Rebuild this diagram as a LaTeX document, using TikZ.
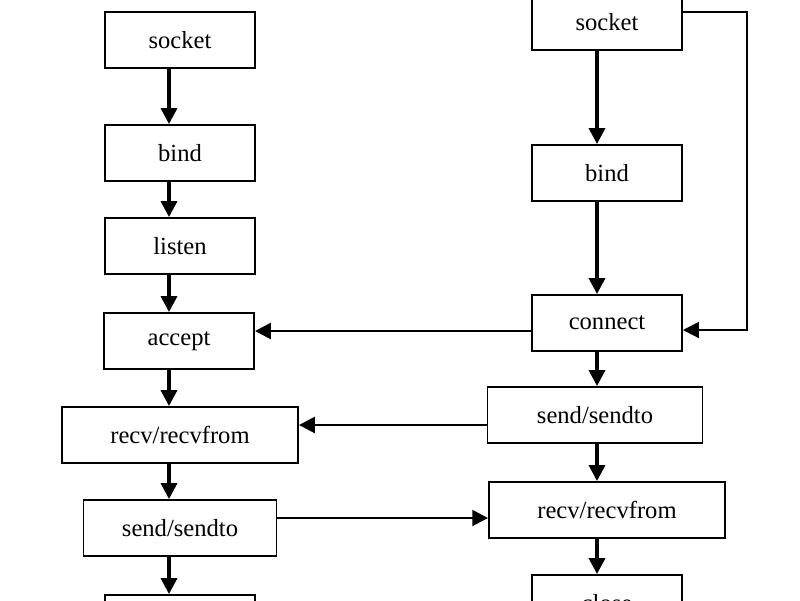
\documentclass[tikz,border=0pt]{standalone}
\usepackage{fontspec}
\setmainfont{Liberation Serif}
\usepackage{tikz}
\usetikzlibrary{arrows.meta}

\begin{document}
\begin{tikzpicture}[x=0.02cm,y=-0.02cm,
    every node/.style={draw,line width=1.1pt,minimum width=3cm,minimum height=1.12cm,inner sep=0,font=\fontsize{14}{16}\selectfont},
    arr/.style={-{Triangle[length=9pt,width=9pt]},line width=2pt}]
        \useasboundingbox (0,0) rectangle (800,600);
        \clip (0,0) rectangle (800,600);
        % server side
        \node (lsocket) at (180,40) {socket};
        \node (lbind) at (180,153) {bind};
        \node (llisten) at (180,246) {listen};
        \node (laccept) at (179,341) {accept};
        \node[minimum width=4.72cm] (lrecv) at (180,435) {recv/recvfrom};
        \node[minimum width=3.86cm] (lsend) at (180,528) {send/sendto};
        \node (lclose) at (180,623) {};
        % client side
        \node (rsocket) at (607,22) {socket};
        \node (rbind) at (607,173) {bind};
        \node (rconnect) at (607,323) {connect};
        \node[minimum width=4.3cm] (rsend) at (595,415) {send/sendto};
        \node[minimum width=4.72cm] (rrecv) at (607,510) {recv/recvfrom};
        \node (rclose) at (607,603) {close};
        \coordinate (lx) at (169,0);
        \coordinate (rx) at (597,0);
        \foreach \a/\b in {lsocket/lbind,lbind/llisten,llisten/laccept,laccept/lrecv,lrecv/lsend,lsend/lclose}
          \draw[arr] (\a.south -| lx) -- (\b.north -| lx);
        \foreach \a/\b in {rsocket/rbind,rbind/rconnect,rconnect/rsend,rsend/rrecv,rrecv/rclose}
          \draw[arr] (\a.south -| rx) -- (\b.north -| rx);
        \coordinate (turn1) at (747,12);
        \coordinate (turn2) at (747,330);
        \draw[arr,line width=1.1pt] (rsocket.east |- turn1) -- (turn1) -- (turn2) -- (rconnect.east |- turn2);
        \coordinate (h1) at (0,331);
        \coordinate (h2) at (0,425);
        \coordinate (h3) at (0,518);
        \draw[arr,line width=1.5pt] (rconnect.west |- h1) -- (laccept.east |- h1);
        \draw[arr,line width=1.5pt] (rsend.west |- h2) -- (lrecv.east |- h2);
        \draw[arr,line width=1.5pt] (lsend.east |- h3) -- (rrecv.west |- h3);
      \end{tikzpicture}
\end{document}
